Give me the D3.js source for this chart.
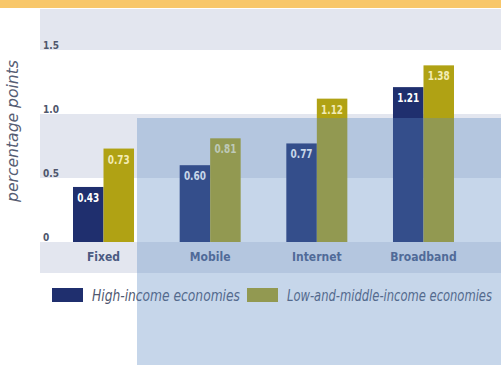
<!DOCTYPE html>
<html>
<head>
<meta charset="utf-8">
<script src="https://cdn.jsdelivr.net/npm/d3@7"></script>
<style>
  body { margin: 0; background: #fff; }
  svg { display: block; }
  text { font-family: "DejaVu Sans Condensed", "Liberation Sans", sans-serif; }
</style>
</head>
<body>
<div id="chart"></div>
<script>
// data
var categories = ["Fixed", "Mobile", "Internet", "Broadband"];
var seriesNames = ["High-income economies", "Low-and-middle-income economies"];
var highIncome = [0.43, 0.60, 0.77, 1.21];
var lowMiddleIncome = [0.73, 0.81, 1.12, 1.38];
var tickValues = [0, 0.5, 1.0, 1.5];
var tickLabels = ["0", "0.5", "1.0", "1.5"];

var w = 501;
var h = 365;
var left = 40;
var baseY = 242;

var colors = ["#1f2f6e", "#b0a214"];
var labelColors = ["#ffffff", "#f3ecb4"];

var svg = d3.select("#chart")
    .append("svg")
    .attr("width", w)
    .attr("height", h);

// y scale: 0 at baseline, 1.5 at y=50
var y = d3.scaleLinear()
    .domain([0, 1.5])
    .range([baseY, 50]);

var x0 = d3.scaleBand()
    .domain(categories)
    .range([73, 454])
    .paddingInner(0.428)
    .paddingOuter(0);

var x1 = d3.scaleBand()
    .domain([0, 1])
    .range([0, x0.bandwidth()]);

// top orange strip
svg.append("rect")
    .attr("x", 0).attr("y", 0)
    .attr("width", w).attr("height", 8)
    .attr("fill", "#f8c76a");

// alternating bands
var bands = [
    {from: 1.5, to: y.invert(9), fill: "#e3e6ef"},
    {from: 1.0, to: 1.5, fill: "#ffffff"},
    {from: 0.5, to: 1.0, fill: "#e3e6ef"},
    {from: 0, to: 0.5, fill: "#ffffff"}
];
svg.selectAll("rect.band")
    .data(bands)
    .enter()
    .append("rect")
    .attr("class", "band")
    .attr("x", left)
    .attr("y", function(d) { return y(d.to); })
    .attr("width", w - left)
    .attr("height", function(d) { return y(d.from) - y(d.to); })
    .attr("fill", function(d) { return d.fill; });

// category label strip
svg.append("rect")
    .attr("x", left).attr("y", baseY)
    .attr("width", w - left).attr("height", 31)
    .attr("fill", "#e3e6ef");

// tick labels
svg.selectAll("text.tick")
    .data(tickValues)
    .enter()
    .append("text")
    .attr("class", "tick")
    .attr("x", 43)
    .attr("y", function(d) { return y(d) - 1; })
    .attr("font-size", 10)
    .attr("font-weight", "bold")
    .attr("fill", "#4f566c")
    .text(function(d, i) { return tickLabels[i]; });

// y title
svg.append("text")
    .attr("transform", "translate(18,131) rotate(-90)")
    .attr("text-anchor", "middle")
    .attr("font-size", 16)
    .attr("font-style", "italic")
    .attr("fill", "#565d73")
    .attr("textLength", 142)
    .attr("lengthAdjust", "spacingAndGlyphs")
    .text("percentage points");

// bars
var groups = svg.selectAll("g.group")
    .data(categories)
    .enter()
    .append("g")
    .attr("class", "group")
    .attr("transform", function(d) { return "translate(" + x0(d) + ",0)"; });

groups.selectAll("rect")
    .data(function(d, i) { return [highIncome[i], lowMiddleIncome[i]]; })
    .enter()
    .append("rect")
    .attr("x", function(d, j) { return x1(j); })
    .attr("y", function(d) { return y(d); })
    .attr("width", x1.bandwidth())
    .attr("height", function(d) { return baseY - y(d); })
    .attr("fill", function(d, j) { return colors[j]; });

groups.selectAll("text")
    .data(function(d, i) { return [highIncome[i], lowMiddleIncome[i]]; })
    .enter()
    .append("text")
    .attr("x", function(d, j) { return x1(j) + x1.bandwidth() / 2; })
    .attr("y", function(d) { return y(d) + 15; })
    .attr("text-anchor", "middle")
    .attr("font-size", 12)
    .attr("font-weight", "bold")
    .attr("fill", function(d, j) { return labelColors[j]; })
    .attr("textLength", 22)
    .attr("lengthAdjust", "spacingAndGlyphs")
    .text(function(d) { return d.toFixed(2); });

// category labels
svg.selectAll("text.cat")
    .data(categories)
    .enter()
    .append("text")
    .attr("class", "cat")
    .attr("x", function(d) { return x0(d) + x0.bandwidth() / 2; })
    .attr("y", 261)
    .attr("text-anchor", "middle")
    .attr("font-size", 12)
    .attr("font-weight", "bold")
    .attr("fill", "#4b5a82")
    .text(function(d) { return d; });

// legend
var legendX = [52, 247];
var legendLen = [148, 205];
var legend = svg.selectAll("g.legend")
    .data(seriesNames)
    .enter()
    .append("g")
    .attr("class", "legend")
    .attr("transform", function(d, i) { return "translate(" + legendX[i] + ",288)"; });

legend.append("rect")
    .attr("width", 31)
    .attr("height", 14)
    .attr("fill", function(d, i) { return colors[i]; });

legend.append("text")
    .attr("x", 40)
    .attr("y", 13)
    .attr("font-size", 16)
    .attr("font-style", "italic")
    .attr("fill", "#4f5870")
    .attr("textLength", function(d, i) { return legendLen[i]; })
    .attr("lengthAdjust", "spacingAndGlyphs")
    .text(function(d) { return d; });

// translucent blue panel laid over the right part
svg.append("rect")
    .attr("x", 137).attr("y", 118)
    .attr("width", w - 137).attr("height", h - 118)
    .attr("fill", "rgb(92,138,195)")
    .attr("fill-opacity", 0.35);
</script>
</body>
</html>
